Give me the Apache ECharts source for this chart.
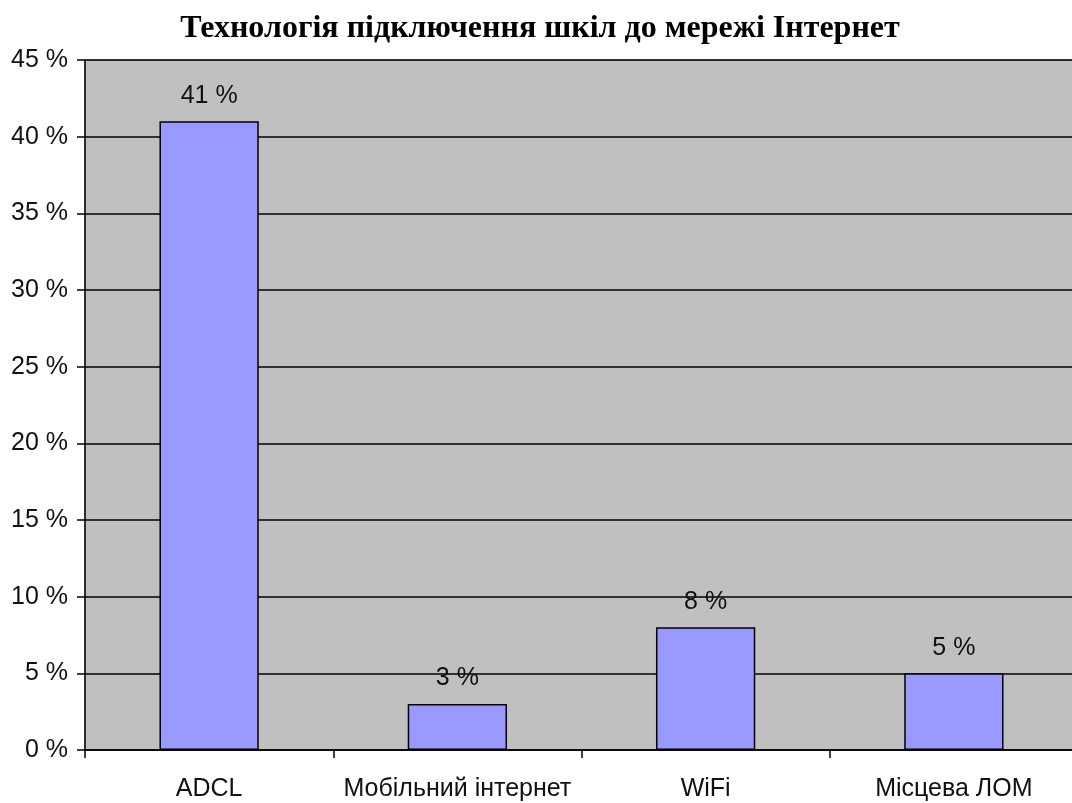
<!DOCTYPE html>
<html>
<head>
<meta charset="utf-8">
<script src="https://cdn.jsdelivr.net/npm/echarts@6/dist/echarts.min.js"></script>
<style>html,body{margin:0;padding:0;background:#fff;overflow:hidden}#c{width:1078px;height:803px}</style>
</head>
<body>
<div id="c"></div>
<script>
const titleText = 'Технологія підключення шкіл до мережі Інтернет';
const categories = ['ADCL', 'Мобільний інтернет', 'WiFi', 'Місцева ЛОМ'];
const values = [41, 3, 8, 5];
const yMin = 0, yMax = 45, yStep = 5;

const chart = echarts.init(document.getElementById('c'), null, {renderer: 'canvas'});
chart.setOption({
  animation: false,
  backgroundColor: '#ffffff',
  title: {
    text: titleText,
    left: 535, top: 8, textAlign: 'center',
    textStyle: {fontFamily: 'Liberation Serif', fontWeight: 'bold', fontSize: 32, color: '#000'}
  },
  grid: {
    left: 85, top: 60, bottom: 53, right: 0,
    show: true, backgroundColor: '#C0C0C0', borderColor: '#8c8c8c', borderWidth: 1
  },
  xAxis: {
    type: 'category', data: categories, boundaryGap: true,
    axisLine: {lineStyle: {color: '#000', width: 1.5}},
    axisTick: {show: true, length: 8, lineStyle: {color: '#000', width: 1.5}},
    axisLabel: {interval: 0, fontFamily: 'Liberation Sans', fontSize: 25, color: '#111', margin: 27}
  },
  yAxis: {
    type: 'value', min: yMin, max: yMax, interval: yStep,
    axisLine: {show: true, lineStyle: {color: '#000', width: 1.5}},
    axisTick: {show: true, length: 8, lineStyle: {color: '#000', width: 1.5}},
    axisLabel: {formatter: '{value} %', fontFamily: 'Liberation Sans', fontSize: 25, color: '#111', margin: 17},
    splitLine: {show: true, lineStyle: {color: '#000', width: 1.5}}
  },
  series: [{
    type: 'bar', data: values, barWidth: '40%',
    itemStyle: {color: '#9999FF', borderColor: '#000', borderWidth: 1.5},
    label: {show: true, position: 'top', distance: 13, formatter: '{c} %',
      fontFamily: 'Liberation Sans', fontSize: 25, color: '#111'}
  }]
});
</script>
</body>
</html>
